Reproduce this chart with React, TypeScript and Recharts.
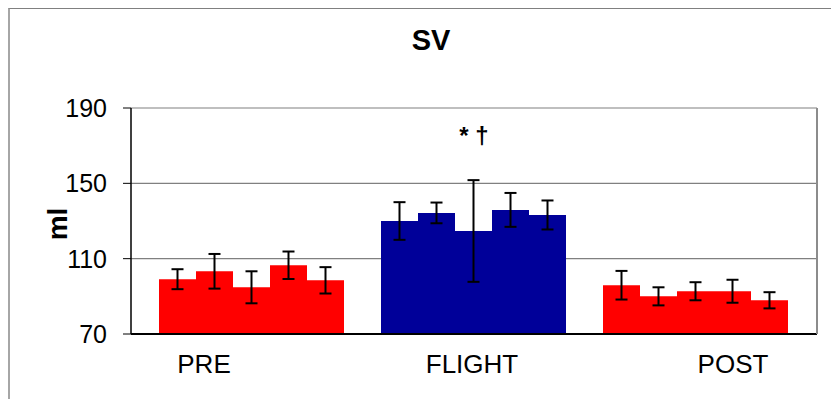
import React from 'react';
import {
  BarChart,
  Bar,
  Cell,
  XAxis,
  YAxis,
  CartesianGrid,
  ErrorBar,
  ReferenceDot,
} from 'recharts';

const categories = ['PRE', 'FLIGHT', 'POST'];

// one array per session, five subjects each
const preValues = [99.1, 103.3, 94.8, 106.5, 98.5];
const preErrors = [5.3, 9.2, 8.5, 7.3, 7.0];
const flightValues = [130.0, 134.3, 124.7, 135.9, 133.2];
const flightErrors = [10.0, 5.5, 27.0, 9.0, 7.7];
const postValues = [95.9, 90.0, 92.7, 92.7, 87.9];
const postErrors = [7.6, 4.8, 4.8, 6.1, 4.3];

const yTicks = [70, 110, 150, 190];

const valueSets = [preValues, flightValues, postValues];
const errorSets = [preErrors, flightErrors, postErrors];
const COLORS = ['#ff0000', '#000099', '#ff0000'];
const LABEL_SHIFT = [-48, -2, 37];
const FONT = 'Arial, "Liberation Sans", Helvetica, sans-serif';

const data = categories.map((name, c) => {
  const row: Record<string, any> = { name };
  valueSets[c].forEach((v, i) => {
    row[`v${i}`] = v;
    row[`e${i}`] = errorSets[c][i];
  });
  return row;
});

const CategoryTick = (props: any) => {
  const { x, y, payload } = props;
  const idx = categories.indexOf(payload.value);
  return (
    <text
      x={x + (LABEL_SHIFT[idx] || 0)}
      y={y}
      dy="0.71em"
      textAnchor="middle"
      fontSize={26}
      fontFamily={FONT}
      fill="#000"
    >
      {payload.value}
    </text>
  );
};

const App: React.FC = () => {
  return (
    <div
      style={{
        position: 'absolute',
        left: 0,
        top: 0,
        width: 831,
        height: 399,
        overflow: 'hidden',
        background: '#fff',
        fontFamily: FONT,
      }}
    >
      <div
        style={{
          position: 'absolute',
          left: 8,
          top: 8,
          width: 900,
          height: 500,
          borderLeft: '2px solid #a6a6a6',
          borderTop: '1px solid #808080',
        }}
      />
      <div
        style={{
          position: 'absolute',
          left: 0,
          top: 26,
          width: 862,
          textAlign: 'center',
          fontSize: 29,
          lineHeight: '29px',
          fontWeight: 'bold',
        }}
      >
        SV
      </div>
      <div style={{ position: 'absolute', left: 0, top: 0 }}>
        <BarChart
          width={831}
          height={399}
          data={data}
          margin={{ top: 108, right: 0, bottom: 0, left: 0 }}
          barGap={0}
          barCategoryGap={18}
        >
          <CartesianGrid vertical={false} stroke="#808080" strokeWidth={1.2} />
          <XAxis
            dataKey="name"
            height={65}
            padding={{ left: 10, right: 10 }}
            axisLine={{ stroke: '#000', strokeWidth: 2 }}
            tickLine={false}
            tickSize={8}
            tickMargin={13}
            tick={<CategoryTick />}
            interval={0}
          />
          <YAxis
            width={131}
            domain={[70, 190]}
            ticks={yTicks}
            allowDataOverflow
            axisLine={{ stroke: '#000', strokeWidth: 1.5 }}
            tickLine={{ stroke: '#000' }}
            tickSize={8}
            tickMargin={16}
            tick={{ fill: '#000', fontSize: 25, fontFamily: FONT }}
            label={{
              value: 'ml',
              angle: -90,
              position: 'center',
              dx: -8,
              dy: 3,
              fontSize: 28,
              fontWeight: 'bold',
              fill: '#000',
              fontFamily: FONT,
            }}
          />
          <YAxis
            yAxisId="right"
            orientation="right"
            type="number"
            domain={[70, 190]}
            width={14}
            tick={false}
            tickLine={false}
            axisLine={{ stroke: '#8c8c8c', strokeWidth: 2 }}
          />
          {[0, 1, 2, 3, 4].map((i) => (
            <Bar key={i} dataKey={`v${i}`} isAnimationActive={false}>
              {data.map((entry, c) => (
                <Cell key={`cell-${c}`} fill={COLORS[c]} />
              ))}
              <ErrorBar
                dataKey={`e${i}`}
                direction="y"
                width={6}
                stroke="#000"
                strokeWidth={2}
              />
            </Bar>
          ))}
          <ReferenceDot
            x="FLIGHT"
            y={175.5}
            r={0}
            fill="none"
            stroke="none"
            label={{
              value: '* †',
              position: 'center',
              fontSize: 24,
              fontWeight: 'bold',
              fill: '#000',
              fontFamily: FONT,
            }}
          />
        </BarChart>
      </div>
    </div>
  );
};

export default App;
